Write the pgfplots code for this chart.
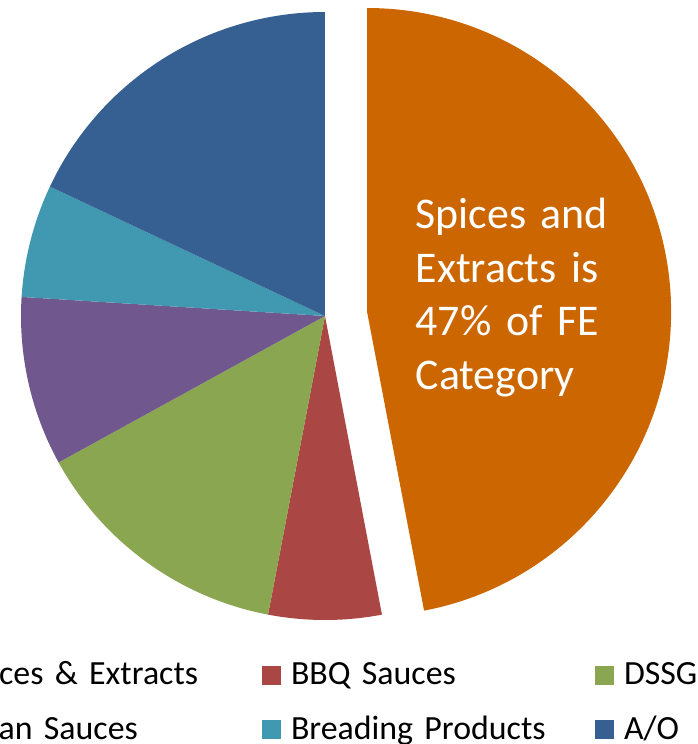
\documentclass[border=0pt]{standalone}
\usepackage{pgfplots}
\usepackage{pgfplotstable}
\pgfplotsset{compat=1.18}
\usepackage{fontspec}
\setmainfont{Carlito}

\definecolor{pie0}{HTML}{CC6600}
\definecolor{pie1}{HTML}{AA4643}
\definecolor{pie2}{HTML}{8BA650}
\definecolor{pie3}{HTML}{70588F}
\definecolor{pie4}{HTML}{4099B0}
\definecolor{pie5}{HTML}{376092}

% share (%) and explode distance of each slice, clockwise from 12 o'clock
\pgfplotstableread{
value explode
47 42.3
6 0
14 0
9 0
6 0
18 0
}\pietable

\begin{document}
\begin{tikzpicture}[x=1bp,y=1bp]
\pgfmathsetmacro\cumang{90}
\pgfplotsforeachungrouped \i in {0,...,5}{%
  \pgfplotstablegetelem{\i}{value}\of\pietable
  \pgfmathsetmacro\endang{\cumang-3.6*\pgfplotsretval}%
  \pgfmathsetmacro\midang{(\cumang+\endang)/2}%
  \pgfplotstablegetelem{\i}{explode}\of\pietable
  \pgfmathsetmacro\shx{\pgfplotsretval*cos(\midang)}%
  \pgfmathsetmacro\shy{\pgfplotsretval*sin(\midang)}%
  \expandafter\xdef\csname pieA\i\endcsname{\cumang}%
  \expandafter\xdef\csname pieB\i\endcsname{\endang}%
  \expandafter\xdef\csname pieX\i\endcsname{\shx}%
  \expandafter\xdef\csname pieY\i\endcsname{\shy}%
  \global\let\cumang\endang
}
\begin{scope}
\clip (-325,-428) rectangle (373,316);
\begin{axis}[
  anchor=origin, at={(0,0)},
  x=1bp, y=1bp,
  xmin=-325, xmax=373, ymin=-428, ymax=316,
  hide axis, clip=false, scale only axis,
  legend columns=3,
  legend cell align=left,
  legend image code/.code={\fill[#1] (0bp,-9.5bp) rectangle (19bp,9.5bp); \path (29bp,0bp);},
  legend style={at={(axis description cs:-0.101719,0.114919)}, anchor=north west,
    draw=none, fill=none, inner sep=0pt, outer sep=0pt, row sep=21.5bp,
    font=\fontsize{34}{40}\selectfont,
    nodes={inner sep=0pt, outer sep=0pt, text width=260bp, align=left,
      text height=26bp, text depth=7bp, font=\fontsize{34}{40}\selectfont, anchor=west},
    /tikz/every even column/.append style={column sep=44bp}},
]
\pgfplotsinvokeforeach{0,...,5}{
  \fill[pie#1] (axis cs:\csname pieX#1\endcsname,\csname pieY#1\endcsname)
     -- ++({\csname pieA#1\endcsname}:304bp)
     arc[start angle={\csname pieA#1\endcsname}, end angle={\csname pieB#1\endcsname}, radius=304bp]
     -- cycle;
}
\node[anchor=base west, inner sep=0pt, text=white, text width=260bp, align=left,
  font=\fontsize{44}{54}\selectfont] at (axis cs:90.5,87.7)
  {Spices and\\Extracts is\\47\% of FE\\Category};
\addlegendimage{fill=pie0, draw=none}
\addlegendentry{Spices \& Extracts}
\addlegendimage{fill=pie1, draw=none}
\addlegendentry{BBQ Sauces}
\addlegendimage{fill=pie2, draw=none}
\addlegendentry{DSSG}
\addlegendimage{fill=pie3, draw=none}
\addlegendentry{Asian Sauces}
\addlegendimage{fill=pie4, draw=none}
\addlegendentry{Breading Products}
\addlegendimage{fill=pie5, draw=none}
\addlegendentry{A/O}
\end{axis}
\end{scope}
\pgfresetboundingbox
\useasboundingbox (-325,-428) rectangle (373,316);
\end{tikzpicture}
\end{document}
